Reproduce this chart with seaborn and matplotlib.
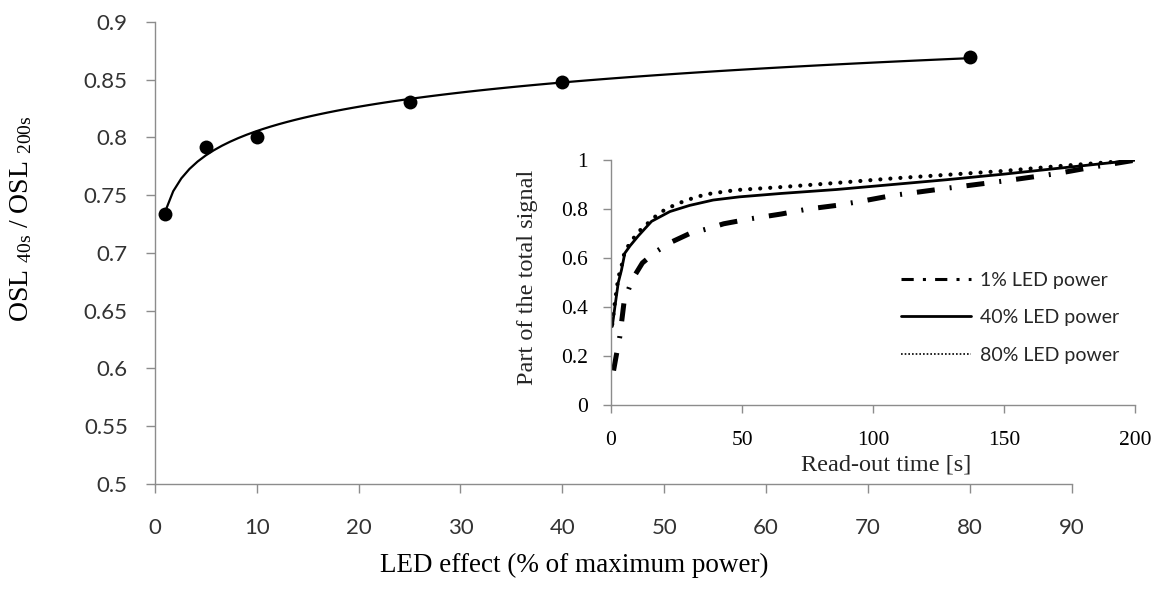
import numpy as np
import pandas as pd
import matplotlib
matplotlib.use("Agg")
import matplotlib.pyplot as plt
from matplotlib.lines import Line2D
import seaborn as sns

# ---- data ----
led_power = [1, 5, 10, 25, 40, 80]
osl_ratio = [0.734, 0.792, 0.800, 0.831, 0.848, 0.870]

x_ticks = [0, 10, 20, 30, 40, 50, 60, 70, 80, 90]
y_ticks = [0.5, 0.55, 0.6, 0.65, 0.7, 0.75, 0.8, 0.85, 0.9]
y_tick_labels = ["0.5", "0.55", "0.6", "0.65", "0.7", "0.75", "0.8", "0.85", "0.9"]

t_1 = [1, 2, 3.4, 5, 8, 12, 17, 23, 30, 37, 43, 53, 65, 75, 86, 97, 107, 128, 150, 170, 183, 200]
v_1 = [0.14, 0.20, 0.28, 0.42, 0.51, 0.58, 0.625, 0.665, 0.70, 0.72, 0.74, 0.76, 0.78, 0.80,
       0.815, 0.835, 0.855, 0.885, 0.915, 0.945, 0.97, 1.0]
t_40 = [0.5, 1.5, 2.8, 4, 5.3, 7.3, 10.4, 15.5, 22.5, 30, 39, 49, 65, 86, 107, 128, 150, 170, 200]
v_40 = [0.32, 0.40, 0.50, 0.55, 0.62, 0.65, 0.69, 0.75, 0.79, 0.815, 0.837, 0.85, 0.864, 0.88,
        0.90, 0.92, 0.943, 0.966, 1.0]
t_80 = [0.5, 1.5, 2.8, 4.1, 5.3, 7.3, 9.2, 11.7, 14.9, 18, 21, 25, 29, 36, 43, 48, 65, 86, 107,
        128, 150, 170, 200]
v_80 = [0.33, 0.42, 0.52, 0.57, 0.63, 0.66, 0.69, 0.72, 0.75, 0.78, 0.80, 0.82, 0.837, 0.86,
        0.871, 0.878, 0.89, 0.907, 0.925, 0.94, 0.956, 0.975, 1.0]
series_labels = ["1% LED power", "40% LED power", "80% LED power"]

inset_x_ticks = [0, 50, 100, 150, 200]
inset_y_ticks = [0, 0.2, 0.4, 0.6, 0.8, 1]
inset_y_labels = ["0", "0.2", "0.4", "0.6", "0.8", "1"]

# ---- style ----
sns.set_style("ticks")
plt.rcParams["font.family"] = ["Lato", "DejaVu Sans"]
plt.rcParams["mathtext.fontset"] = "custom"
plt.rcParams["mathtext.rm"] = "Liberation Serif"
plt.rcParams["mathtext.it"] = "Liberation Serif:italic"

SERIF = "Liberation Serif"
SPINE = "#8c8c8c"
TICKTXT = "#333333"

fig = plt.figure(figsize=(11.56, 5.91), dpi=100)
ax = fig.add_axes([0.134, 0.181, 0.793, 0.782])

df_main = pd.DataFrame({"power": led_power, "ratio": osl_ratio})
sns.regplot(data=df_main, x="power", y="ratio", logx=True, ci=None, ax=ax,
            scatter_kws=dict(s=100, color="black", alpha=1, zorder=3, linewidths=0),
            line_kws=dict(color="black", lw=1.6, zorder=2))

ax.set_xlim(0, 90)
ax.set_ylim(0.5, 0.9)
ax.set_xticks(x_ticks)
ax.set_yticks(y_ticks)
ax.set_yticklabels(y_tick_labels)
for s in ["top", "right"]:
    ax.spines[s].set_visible(False)
for s in ["left", "bottom"]:
    ax.spines[s].set_color(SPINE)
    ax.spines[s].set_linewidth(1.0)
ax.tick_params(axis="both", direction="out", length=6.5, width=1.0, color=SPINE,
               labelsize=16, labelcolor=TICKTXT)
ax.tick_params(axis="y", pad=13)
ax.tick_params(axis="x", pad=18)
ax.set_xlabel("")
ax.set_ylabel("")
fig.text(0.497, 0.022, "LED effect (% of maximum power)", family=SERIF, fontsize=19.5,
         ha="center", va="bottom", color="black")
fig.text(0.018, 0.63, r"OSL $_{\mathrm{40s}}$ / OSL $_{\mathrm{200s}}$", family=SERIF,
         fontsize=20, rotation=90, ha="center", va="center", color="black")

# ---- inset ----
axi = fig.add_axes([0.5285, 0.315, 0.4535, 0.414])
axi.set_facecolor("white")
df1 = pd.DataFrame({"t": t_1, "v": v_1})
df40 = pd.DataFrame({"t": t_40, "v": v_40})
df80 = pd.DataFrame({"t": t_80, "v": v_80})
sns.lineplot(data=df1, x="t", y="v", ax=axi, color="black", lw=3.6)
axi.lines[-1].set_dashes([3.6, 3.0, 0.4, 3.0])
sns.lineplot(data=df40, x="t", y="v", ax=axi, color="black", lw=2.0)
sns.lineplot(data=df80, x="t", y="v", ax=axi, color="black", lw=3.0)
axi.lines[-1].set_dashes([0.01, 2.4])
axi.lines[-1].set_dash_capstyle("round")

axi.set_xlim(0, 200)
axi.set_ylim(0, 1)
axi.set_xticks(inset_x_ticks)
axi.set_yticks(inset_y_ticks)
axi.set_yticklabels(inset_y_labels)
for s in ["top", "right"]:
    axi.spines[s].set_visible(False)
for s in ["left", "bottom"]:
    axi.spines[s].set_color(SPINE)
    axi.spines[s].set_linewidth(1.0)
axi.tick_params(axis="both", direction="out", length=5.5, width=1.0, color=SPINE,
                labelsize=15.5, labelcolor="black")
axi.tick_params(axis="x", pad=13)
axi.tick_params(axis="y", pad=11)
for lab in axi.get_xticklabels() + axi.get_yticklabels():
    lab.set_family(SERIF)
axi.set_xlabel("Read-out time [s]", family=SERIF, fontsize=17.5)
axi.xaxis.set_label_coords(0.525, -0.245)
axi.xaxis.label.set_va("center")
axi.set_ylabel("Part of the total signal", family=SERIF, fontsize=17.5)
axi.yaxis.set_label_coords(-0.159, 0.52)
axi.yaxis.label.set_va("center")

handles = [
    Line2D([], [], color="black", lw=2.2, dashes=[4, 3, 1, 3]),
    Line2D([], [], color="black", lw=2.0),
    Line2D([], [], color="black", lw=1.2, dashes=[1, 1.2]),
]
axi.legend(handles, series_labels, loc="upper left", bbox_to_anchor=(0.52, 0.615),
           frameon=False, handlelength=3.6, handletextpad=0.45,
           labelspacing=1.05, prop={"family": ["Lato"], "size": 14})

fig.savefig("out.png", dpi=100)
